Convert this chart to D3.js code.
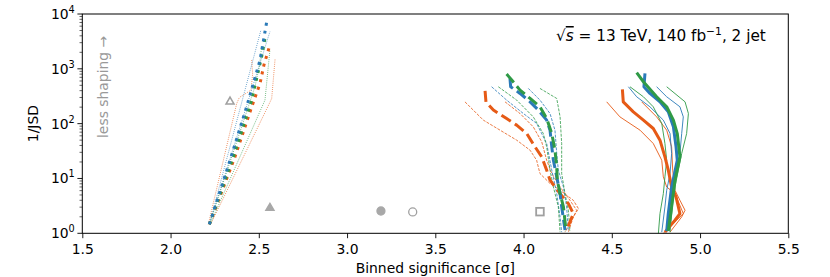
<!DOCTYPE html>
<html><head><meta charset="utf-8">
<script src="https://cdn.jsdelivr.net/npm/d3@7"></script>
<style>body{margin:0;background:#fff}svg{display:block}text{font-family:"DejaVu Sans",sans-serif}</style>
</head><body><svg id="c" width="830" height="277"></svg>
<script>
// ---- axis ticks ----
const xTicks = [1.5, 2.0, 2.5, 3.0, 3.5, 4.0, 4.5, 5.0, 5.5];
const yTicks = [1, 10, 100, 1000, 10000];
const yTickExp = ["0", "1", "2", "3", "4"];

// ---- dotted family: [significance, 1/JSD] ----
const dotOrange   = [[2.220,1.46],[2.365,24.8],[2.460,203],[2.507,542],[2.529,1172],[2.560,2535]];
const dotOrangeLo = [[2.214,1.46],[2.375,234],[2.390,301],[2.456,409],[2.465,800],[2.460,1445]];
const dotOrangeHi = [[2.227,1.46],[2.560,234],[2.573,288],[2.582,624],[2.592,1486]];
const dotBlue     = [[2.220,1.46],[2.337,21.6],[2.431,203],[2.507,1445],[2.546,7570]];
const dotBlueLo   = [[2.220,1.46],[2.512,5100]];
const dotBlueHi   = [[2.220,1.46],[2.563,4750]];
const dotGreen    = [[2.220,1.46],[2.356,24.8],[2.460,269],[2.516,1663],[2.539,4260]];
const dotGreenLo  = [[2.220,1.46],[2.478,471],[2.503,1091],[2.516,2535]];
const dotGreenHi  = [[2.224,1.46],[2.535,269],[2.563,2200]];

// ---- dashed family ----
const dashOrange   = [[3.782,398],[3.787,250],[3.829,177],[3.904,124],[3.961,94],[4.018,66],[4.065,37.8],[4.103,24.8],[4.131,14.2],[4.150,9.3],[4.207,5.3],[4.254,3.48],[4.282,2.29],[4.244,1.15]];
const dashOrangeLo = [[3.668,250],[3.772,116],[3.867,76],[3.961,50],[4.037,32.8],[4.074,21.5],[4.093,12.3],[4.150,8.1],[4.207,6.1],[4.282,4.0],[4.311,2.82],[4.282,1.99],[4.254,1.05]];
const dashOrangeHi = [[3.895,250],[3.980,153],[4.055,87.5],[4.103,46.6],[4.131,21.5],[4.160,12.3],[4.207,7.0],[4.263,4.0],[4.301,2.63],[4.273,1.73],[4.235,1.05]];
const dashBlue     = [[3.923,668],[3.927,471],[3.980,356],[4.037,250],[4.084,177],[4.131,116],[4.150,76],[4.160,37.8],[4.169,21.5],[4.188,10.7],[4.207,5.3],[4.216,3.03],[4.235,1.15]];
const dashBlueLo   = [[3.819,471],[3.904,269],[3.999,153],[4.074,101],[4.131,43.4],[4.160,14.2],[4.188,5.3],[4.207,1.99],[4.216,1.05]];
const dashBlueHi   = [[4.027,439],[4.093,269],[4.150,153],[4.178,76],[4.188,28.5],[4.197,14.2],[4.226,7.0],[4.244,3.03],[4.254,1.1]];
const dashGreen    = [[3.904,802],[3.933,624],[3.980,409],[4.037,288],[4.093,203],[4.131,124],[4.160,66],[4.178,32.8],[4.188,16.3],[4.191,9.3],[4.207,5.3],[4.226,3.03],[4.241,1.1]];
const dashGreenLo  = [[3.857,471],[3.961,269],[4.055,133],[4.112,66],[4.131,37.8],[4.150,14.2],[4.169,7.0],[4.197,3.03],[4.207,1.05]];
const dashGreenHi  = [[4.093,439],[4.188,288],[4.207,133],[4.216,43.4],[4.216,12.3],[4.235,5.3],[4.254,2.63],[4.263,1.1]];

// ---- solid family ----
const solOrange   = [[4.560,421],[4.565,250],[4.622,164],[4.679,116],[4.735,81.6],[4.773,50],[4.801,24.8],[4.820,14.2],[4.839,7.0],[4.864,4.6],[4.886,2.29],[4.858,1.73],[4.801,1.05]];
const solOrangeLo = [[4.471,250],[4.546,133],[4.660,76],[4.735,43.4],[4.783,21.5],[4.792,10.7],[4.811,7.0],[4.858,5.3],[4.905,2.29],[4.868,1.73],[4.792,1.0]];
const solOrangeHi = [[4.669,250],[4.754,133],[4.811,76],[4.839,37.8],[4.845,14.2],[4.858,6.1],[4.886,4.0],[4.915,2.63],[4.896,1.99],[4.830,1.05]];
const solBlue     = [[4.688,825],[4.682,471],[4.716,356],[4.773,250],[4.820,164],[4.849,87.5],[4.864,37.8],[4.871,21.5],[4.839,7.0],[4.820,2.29],[4.811,1.1]];
const solBlueLo   = [[4.594,471],[4.641,309],[4.716,203],[4.792,116],[4.830,66],[4.839,28.5],[4.830,12.3],[4.811,6.1],[4.801,3.03],[4.783,1.05]];
const solBlueHi   = [[4.754,471],[4.811,309],[4.886,203],[4.905,133],[4.896,66],[4.886,28.5],[4.868,14.2],[4.849,7.0],[4.830,3.48],[4.811,1.05]];
const solGreen    = [[4.641,849],[4.679,581],[4.754,309],[4.811,203],[4.849,116],[4.871,66],[4.886,24.8],[4.858,9.3],[4.839,3.03],[4.820,1.1]];
const solGreenLo  = [[4.603,471],[4.679,309],[4.735,203],[4.783,101],[4.801,43.4],[4.811,21.5],[4.801,10.7],[4.792,5.3],[4.773,2.29],[4.764,1.0]];
const solGreenHi  = [[4.811,471],[4.915,250],[4.934,153],[4.924,66],[4.896,28.5],[4.877,14.2],[4.858,7.0],[4.845,3.48],[4.830,1.05]];

// ---- reference markers ----
const markerSig   = [2.337, 2.563, 3.192, 3.372, 4.093];
const markerInv   = [251, 2.89, 2.55, 2.45, 2.48];
const markerShape = ["triangle", "triangle", "circle", "circle", "square"];
const markerFill  = [false, true, true, false, false];

const annotation = "13 TeV, 140 fb";

const orange = "#e65a16", blue = "#2a7ab8", green = "#2f9a46";

const series = [
  // thin bands first
  {d: dotOrangeLo, c: orange, s: "dot", w: 0.8}, {d: dotOrangeHi, c: orange, s: "dot", w: 0.8},
  {d: dotBlueLo, c: blue, s: "dot", w: 0.8}, {d: dotBlueHi, c: blue, s: "dot", w: 0.8},
  {d: dotGreenLo, c: green, s: "dot", w: 0.8}, {d: dotGreenHi, c: green, s: "dot", w: 0.8},
  {d: dashOrangeLo, c: orange, s: "dash", w: 0.8}, {d: dashOrangeHi, c: orange, s: "dash", w: 0.8},
  {d: dashBlueLo, c: blue, s: "dash", w: 0.8}, {d: dashBlueHi, c: blue, s: "dash", w: 0.8},
  {d: dashGreenLo, c: green, s: "dash", w: 0.8}, {d: dashGreenHi, c: green, s: "dash", w: 0.8},
  {d: solOrangeLo, c: orange, s: "solid", w: 0.9}, {d: solOrangeHi, c: orange, s: "solid", w: 0.9},
  {d: solBlueLo, c: blue, s: "solid", w: 0.9}, {d: solBlueHi, c: blue, s: "solid", w: 0.9},
  {d: solGreenLo, c: green, s: "solid", w: 0.9}, {d: solGreenHi, c: green, s: "solid", w: 0.9},
  // thick
  {d: dotOrange, c: orange, s: "dot", w: 3}, {d: dotGreen, c: green, s: "dot", w: 3}, {d: dotBlue, c: blue, s: "dot", w: 3},
  {d: dashOrange, c: orange, s: "dash", w: 3}, {d: dashBlue, c: blue, s: "dash", w: 3}, {d: dashGreen, c: green, s: "dash", w: 3},
  {d: solOrange, c: orange, s: "solid", w: 3}, {d: solBlue, c: blue, s: "solid", w: 3}, {d: solGreen, c: green, s: "solid", w: 3}
];

const L = 82.3, R = 788.3, T = 14, B = 233.3;
const fs = 13.9;
const svg = d3.select("#c");
const x = d3.scaleLinear().domain([1.5, 5.5]).range([L, R]);
const y = d3.scaleLog().domain([1, 10000]).range([B, T]);

function dashFor(s, w) {
  if (s === "dot") return (1 * w) + "," + (1.65 * w);
  if (s === "dash") return (3.7 * w) + "," + (1.6 * w);
  return null;
}
const line = d3.line().x(p => x(p[0])).y(p => y(p[1]));
svg.append("g").selectAll("path").data(series).join("path")
  .attr("d", s => line(s.d))
  .attr("fill", "none")
  .attr("stroke", s => s.c)
  .attr("stroke-width", s => s.w)
  .attr("stroke-dasharray", s => dashFor(s.s, s.w))
  .attr("stroke-linejoin", "round");

// markers
const mk = svg.append("g");
markerSig.forEach((sv, i) => {
  const cx = x(sv), cy = y(markerInv[i]);
  const fill = markerFill[i] ? "#a8a8a8" : "none";
  const stroke = markerFill[i] ? "#a8a8a8" : "#a0a0a0";
  if (markerShape[i] === "triangle") {
    mk.append("path").attr("d", d3.symbol(d3.symbolTriangle2, 46)())
      .attr("transform", `translate(${cx},${cy})`)
      .attr("fill", fill).attr("stroke", stroke).attr("stroke-width", 1.5);
  } else if (markerShape[i] === "circle") {
    mk.append("circle").attr("cx", cx).attr("cy", cy).attr("r", 4)
      .attr("fill", fill).attr("stroke", stroke).attr("stroke-width", 1.3);
  } else {
    mk.append("rect").attr("x", cx - 3.8).attr("y", cy - 3.8).attr("width", 7.6).attr("height", 7.6)
      .attr("fill", "none").attr("stroke", stroke).attr("stroke-width", 1.8);
  }
});

// frame
svg.append("rect").attr("x", L).attr("y", T).attr("width", R - L).attr("height", B - T)
  .attr("fill", "none").attr("stroke", "#000").attr("stroke-width", 1);

// x axis
const gx = svg.append("g").attr("transform", `translate(0,${B})`)
  .call(d3.axisBottom(x).tickValues(xTicks).tickFormat(d3.format(".1f")).tickSize(4.9).tickPadding(6.2).tickSizeOuter(0));
gx.select(".domain").remove();
gx.selectAll("text").attr("font-size", fs).attr("font-family", "DejaVu Sans").attr("fill", "#000");
gx.selectAll("line").attr("stroke", "#000").attr("stroke-width", 0.9);

// y axis ticks
const minor = y.ticks().filter(v => !yTicks.includes(v));
svg.append("g").selectAll("line").data(minor).join("line")
  .attr("x1", L).attr("x2", L - 2.8).attr("y1", d => y(d)).attr("y2", d => y(d))
  .attr("stroke", "#000").attr("stroke-width", 0.6);
svg.append("g").selectAll("line").data(yTicks).join("line")
  .attr("x1", L).attr("x2", L - 4.9).attr("y1", d => y(d)).attr("y2", d => y(d))
  .attr("stroke", "#000").attr("stroke-width", 0.9);
const yl = svg.append("g").selectAll("text").data(yTicks).join("text")
  .attr("x", L - 7.5).attr("y", d => y(d) + 5).attr("text-anchor", "end")
  .attr("font-size", fs);
yl.append("tspan").text("10");
yl.append("tspan").attr("dy", -6).attr("font-size", fs * 0.7).text((d, i) => yTickExp[i]);

// axis labels
svg.append("text").attr("x", (L + R) / 2).attr("y", 273).attr("text-anchor", "middle")
  .attr("font-size", fs).text("Binned significance [σ]");
svg.append("text").attr("transform", `translate(38,${(T + B) / 2}) rotate(-90)`)
  .attr("text-anchor", "middle").attr("font-size", fs).text("1/JSD");

// less shaping
svg.append("text").attr("transform", `translate(108,138) rotate(-90)`)
  .attr("text-anchor", "start").attr("font-size", fs).attr("fill", "#999").text("less shaping →");

// annotation
const afs = 15.3;
const an = svg.append("text").attr("x", 556).attr("y", 41).attr("font-size", afs);
an.append("tspan").text("√");
an.append("tspan").attr("font-style", "italic").attr("text-decoration", "overline").text("s");
an.append("tspan").text(" = " + annotation);
an.append("tspan").attr("dy", -6.5).attr("font-size", afs * 0.7).text("−1");
an.append("tspan").attr("dy", 6.5).text(", 2 jet");
</script></body></html>
